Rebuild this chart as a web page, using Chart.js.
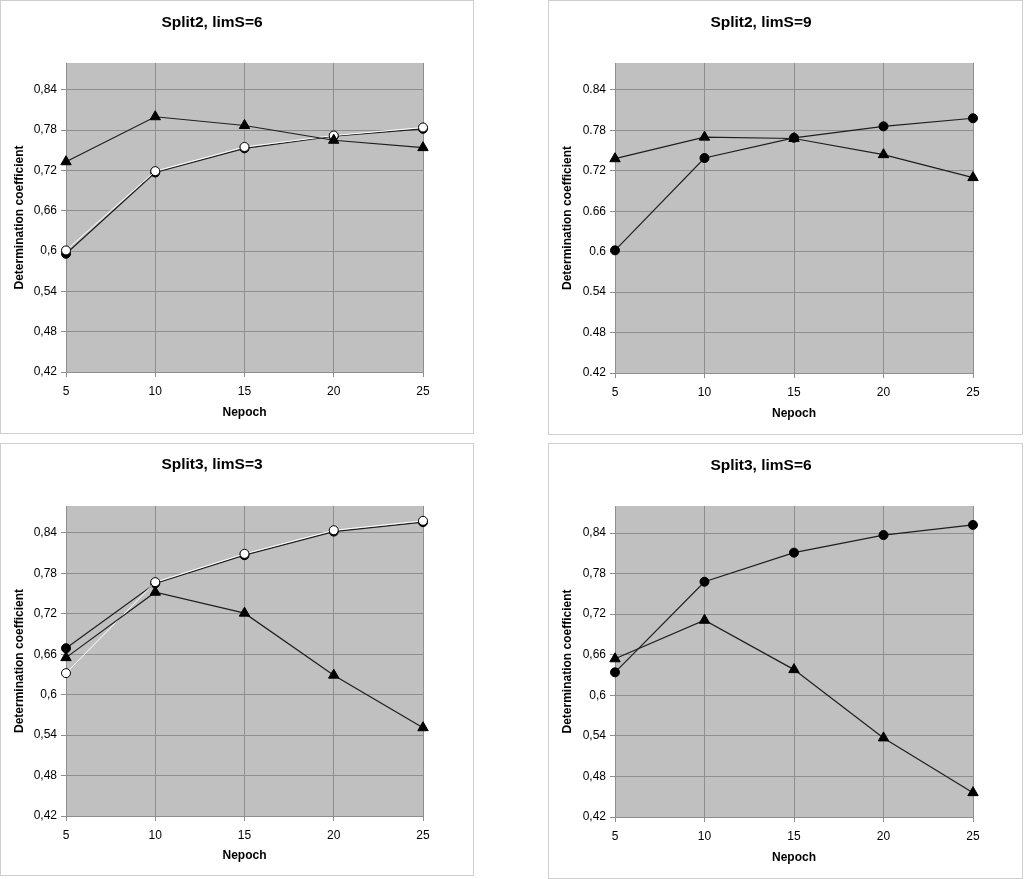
<!DOCTYPE html>
<html>
<head>
<meta charset="utf-8">
<script src="https://cdn.jsdelivr.net/npm/chart.js@4.4.0/dist/chart.umd.min.js"></script>
<style>
  body { margin: 0; background: #fff; }
  .panel { position: absolute; box-sizing: border-box; border: 1px solid #cfcfcf; background: #fff; }
  .panel canvas { position: absolute; left: 0; top: 0; }
</style>
</head>
<body>
<div class="panel" id="p1"><canvas id="c1"></canvas></div>
<div class="panel" id="p2"><canvas id="c2"></canvas></div>
<div class="panel" id="p3"><canvas id="c3"></canvas></div>
<div class="panel" id="p4"><canvas id="c4"></canvas></div>
<script>
// x categories and y ticks
const nepoch = ['5', '10', '15', '20', '25'];
const yTicks = [0.42, 0.48, 0.54, 0.6, 0.66, 0.72, 0.78, 0.84];

// Split2, limS=6
const s2l6Triangle = [0.733, 0.800, 0.787, 0.765, 0.754];
const s2l6White = [0.601, 0.719, 0.755, 0.772, 0.784];
const s2l6Black = [0.596, 0.717, 0.753, 0.771, 0.782];

// Split2, limS=9
const s2l9Triangle = [0.738, 0.770, 0.768, 0.744, 0.710];
const s2l9Black = [0.602, 0.739, 0.769, 0.786, 0.798];

// Split3, limS=3
const s3l3Triangle = [0.655, 0.752, 0.721, 0.629, 0.551];
const s3l3White = [0.632, 0.767, 0.809, 0.844, 0.858];
const s3l3Black = [0.669, 0.765, 0.807, 0.842, 0.856];

// Split3, limS=6
const s3l6Triangle = [0.654, 0.711, 0.638, 0.537, 0.456];
const s3l6Black = [0.634, 0.768, 0.811, 0.837, 0.852];

const FONT = "'Liberation Sans', Arial, sans-serif";
const GRID = '#8e8e8e';

const plotBg = {
    id: 'plotBg',
    beforeDraw(chart) {
        const a = chart.chartArea;
        chart.ctx.save();
        chart.ctx.fillStyle = '#c0c0c0';
        chart.ctx.fillRect(a.left, a.top, a.right - a.left, a.bottom - a.top);
        chart.ctx.restore();
    }
};

function triangleSeries(data) {
    return {
        data: data, borderColor: '#1e1e1e', borderWidth: 1.2,
        pointStyle: 'triangle', pointRadius: 6, pointHoverRadius: 6,
        pointBackgroundColor: '#000', pointBorderColor: '#000', pointBorderWidth: 1,
        tension: 0, fill: false, clip: false
    };
}

function blackSeries(data) {
    return {
        data: data, borderColor: '#1e1e1e', borderWidth: 1.2,
        pointStyle: 'circle', pointRadius: 4.5, pointHoverRadius: 4.5,
        pointBackgroundColor: '#000', pointBorderColor: '#000', pointBorderWidth: 1,
        tension: 0, fill: false, clip: false
    };
}

function whiteSeries(data) {
    return {
        data: data, borderColor: '#ffffff', borderWidth: 1,
        pointStyle: 'circle', pointRadius: 4.5, pointHoverRadius: 4.5,
        pointBackgroundColor: '#fff', pointBorderColor: '#000', pointBorderWidth: 1,
        tension: 0, fill: false, clip: false
    };
}

function makePanel(n, box, plot, pos, titleText, sep, datasets) {
    const div = document.getElementById('p' + n);
    div.style.left = box.x + 'px';
    div.style.top = box.y + 'px';
    div.style.width = box.w + 'px';
    div.style.height = box.h + 'px';

    const cx = box.x + 1, cy = box.y + 1, cw = box.w - 2, ch = box.h - 2;
    const canvas = document.getElementById('c' + n);
    canvas.width = cw;
    canvas.height = ch;

    const titleLh = 15.5 * 1.2;
    const axisLh = 12 * 1.2;
    const titleTop = pos.titleY - cy - titleLh / 2;
    const titleBottom = (plot.t - cy) - titleLh - titleTop;
    const xAxisH = ch - (plot.b - cy);
    const xTitleBottom = ch - (pos.xTitleY - cy) - axisLh / 2;
    const yAxisW = plot.l - cx;
    const yTitleTop = (pos.yTitleX - cx) - axisLh / 2;

    new Chart(canvas.getContext('2d'), {
        type: 'line',
        data: { labels: nepoch, datasets: datasets },
        options: {
            responsive: false,
            animation: false,
            layout: { padding: { left: 0, top: 0, bottom: 0, right: cw - (plot.r - cx) } },
            plugins: {
                legend: { display: false },
                tooltip: { enabled: false },
                title: {
                    display: true, text: titleText, color: '#000',
                    font: { family: FONT, size: 15.5, weight: 'bold' },
                    padding: { top: titleTop, bottom: titleBottom }
                }
            },
            scales: {
                x: {
                    offset: false,
                    grid: { color: GRID, tickLength: 5, tickColor: GRID, offset: false },
                    border: { color: GRID },
                    ticks: { color: '#000', padding: 7, maxRotation: 0, font: { family: FONT, size: 12 } },
                    title: {
                        display: true, text: 'Nepoch', color: '#000',
                        font: { family: FONT, size: 12, weight: 'bold' },
                        padding: { top: 0, bottom: xTitleBottom }
                    },
                    afterFit(scale) { scale.height = xAxisH; }
                },
                y: {
                    min: 0.42, max: 0.88,
                    grid: { color: GRID, tickLength: 5, tickColor: GRID },
                    border: { color: GRID },
                    ticks: {
                        color: '#000', padding: 4, font: { family: FONT, size: 12 },
                        callback: v => String(v).replace('.', sep)
                    },
                    afterBuildTicks(scale) { scale.ticks = yTicks.map(v => ({ value: v })); },
                    title: {
                        display: true, text: 'Determination coefficient', color: '#000',
                        font: { family: FONT, size: 12, weight: 'bold' },
                        padding: { top: yTitleTop, bottom: 0 }
                    },
                    afterFit(scale) { scale.width = yAxisW; }
                }
            }
        },
        plugins: [plotBg]
    });
}

makePanel(1,
    { x: 0, y: 0, w: 474, h: 434 }, { l: 66, t: 63, r: 423, b: 372 },
    { titleY: 23, xTitleY: 413, yTitleX: 19.5 },
    'Split2, limS=6', ',',
    [triangleSeries(s2l6Triangle), whiteSeries(s2l6White), blackSeries(s2l6Black)]);

makePanel(2,
    { x: 548, y: 0, w: 475, h: 435 }, { l: 615, t: 63, r: 973, b: 373 },
    { titleY: 23, xTitleY: 414, yTitleX: 568 },
    'Split2, limS=9', '.',
    [triangleSeries(s2l9Triangle), blackSeries(s2l9Black)]);

makePanel(3,
    { x: 0, y: 443, w: 474, h: 433 }, { l: 66, t: 506, r: 423, b: 816 },
    { titleY: 465, xTitleY: 856, yTitleX: 19.5 },
    'Split3, limS=3', ',',
    [triangleSeries(s3l3Triangle), whiteSeries(s3l3White), blackSeries(s3l3Black)]);

makePanel(4,
    { x: 548, y: 443, w: 475, h: 436 }, { l: 615, t: 506, r: 973, b: 817 },
    { titleY: 466, xTitleY: 858, yTitleX: 568 },
    'Split3, limS=6', ',',
    [triangleSeries(s3l6Triangle), blackSeries(s3l6Black)]);
</script>
</body>
</html>
